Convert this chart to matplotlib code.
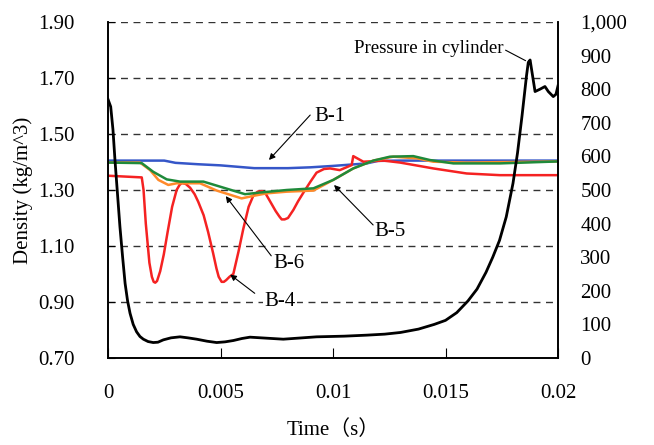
import matplotlib
matplotlib.use("Agg")
import matplotlib.pyplot as plt

# time (s) / density (kg/m^3)
b1_t = [0.0, 0.0025, 0.003, 0.004, 0.005, 0.0065, 0.008, 0.009, 0.010, 0.0115, 0.012, 0.013, 0.020]
b1_d = [1.405, 1.405, 1.397, 1.392, 1.388, 1.378, 1.378, 1.381, 1.386, 1.395, 1.404, 1.405, 1.405]

b4_t = [0.0, 0.0015, 0.00158, 0.00168, 0.00184, 0.00195, 0.00203, 0.0021, 0.00218, 0.00232, 0.00248,
        0.00265, 0.00285, 0.00305, 0.00318, 0.00328, 0.00345, 0.00365, 0.00385, 0.00401, 0.00425,
        0.00445, 0.00467, 0.00482, 0.00492, 0.00505, 0.00515, 0.00525, 0.0054, 0.00557, 0.0058,
        0.00601, 0.00625, 0.00646, 0.00665, 0.00685, 0.0070, 0.0072, 0.00745, 0.00762, 0.00772,
        0.00785, 0.008, 0.00824, 0.00845, 0.00868, 0.009, 0.00927, 0.0096, 0.00987, 0.0103,
        0.01083, 0.0109, 0.01135, 0.01224, 0.01298, 0.01446, 0.01594, 0.01742, 0.020]
b4_d = [1.351, 1.345, 1.30, 1.18, 1.04, 0.99, 0.972, 0.969, 0.975, 1.01, 1.07,
        1.15, 1.24, 1.300, 1.318, 1.325, 1.322, 1.308, 1.285, 1.258, 1.21,
        1.15, 1.075, 1.02, 0.99, 0.972, 0.972, 0.978, 0.99, 1.00, 1.08,
        1.16, 1.24, 1.280, 1.294, 1.296, 1.288, 1.26, 1.225, 1.205, 1.195,
        1.195, 1.20, 1.229, 1.26, 1.29, 1.33, 1.362, 1.375, 1.377, 1.371,
        1.389, 1.421, 1.401, 1.405, 1.398, 1.377, 1.359, 1.353, 1.353]

b6_t = [0.0, 0.00142, 0.00187, 0.00224, 0.00268, 0.00305, 0.00409, 0.00483, 0.00594, 0.00646, 0.00705,
        0.00794, 0.00913, 0.01001, 0.0109, 0.01179, 0.01268, 0.01372, 0.01446, 0.01594, 0.020]
b6_d = [1.398, 1.398, 1.371, 1.336, 1.318, 1.324, 1.324, 1.298, 1.270, 1.279, 1.288,
        1.294, 1.298, 1.336, 1.377, 1.405, 1.419, 1.413, 1.401, 1.398, 1.402]

b5_t = [0.0, 0.0015, 0.00201, 0.00261, 0.0032, 0.00424, 0.00498, 0.00609, 0.00676, 0.00794, 0.00913,
        0.01001, 0.0109, 0.01179, 0.01253, 0.01357, 0.01431, 0.01535, 0.01742, 0.020]
b5_d = [1.398, 1.396, 1.365, 1.338, 1.330, 1.330, 1.312, 1.285, 1.291, 1.300, 1.306,
        1.336, 1.377, 1.405, 1.419, 1.421, 1.407, 1.395, 1.395, 1.402]

# pressure in cylinder, right axis
p_t = [0.0, 0.00012, 0.00022, 0.00031, 0.00042, 0.00053, 0.00065, 0.00076, 0.00087, 0.00098, 0.00112,
       0.00127, 0.00142, 0.00157, 0.00178, 0.00201, 0.00222, 0.00246, 0.0028, 0.0032, 0.00355,
       0.00394, 0.0044, 0.00483, 0.0052, 0.00557, 0.00595, 0.00631, 0.00705, 0.00779, 0.00927,
       0.0105, 0.0115, 0.0123, 0.0130, 0.0138, 0.0145, 0.0150, 0.0155, 0.0160, 0.0164,
       0.0168, 0.0171, 0.0174, 0.0177, 0.0180, 0.0182, 0.0184, 0.0186, 0.01868, 0.01876,
       0.01883, 0.01898, 0.0192, 0.01942, 0.01957, 0.01979, 0.01991, 0.020]
p_v = [770, 748, 680, 589, 490, 391, 300, 222, 170, 133, 100,
       78, 64, 56, 49, 46, 47, 54, 60, 63, 60,
       56, 50, 46, 48, 52, 58, 62, 59, 56, 63,
       65, 68, 71, 76, 86, 100, 112, 135, 170, 205,
       255, 300, 350, 420, 520, 610, 720, 840, 880, 887,
       857, 793, 800, 808, 793, 778, 785, 810]

x_ticks = [0, 0.005, 0.01, 0.015, 0.02]
x_labels = ["0", "0.005", "0.01", "0.015", "0.02"]
d_ticks = [0.70, 0.90, 1.10, 1.30, 1.50, 1.70, 1.90]
p_ticks = [0, 100, 200, 300, 400, 500, 600, 700, 800, 900, 1000]

plt.rcParams["font.family"] = ["Liberation Serif", "Noto Sans CJK JP"]
plt.rcParams["font.size"] = 15

fig = plt.figure(figsize=(6.54, 4.45), dpi=100)
ax = fig.add_axes([108 / 654, 87 / 445, 450 / 654, 336 / 445])
ax2 = ax.twinx()

# dashed grid at the density ticks, the top one replaces the top spine
for y in d_ticks[1:]:
    ax.axhline(y, color="#333333", lw=1.0, ls=(0, (5, 4)), zorder=0.5)
ax.spines["top"].set_visible(False)
ax2.spines["top"].set_visible(False)

ax.plot(b1_t, b1_d, color="#3556c8", lw=1.8)
ax.plot(b4_t, b4_d, color="#f52222", lw=1.8)
ax.plot(b6_t, b6_d, color="#ff8a2a", lw=1.8)
ax.plot(b5_t, b5_d, color="#1f8a3a", lw=1.8)
ax2.plot(p_t, p_v, color="black", lw=2.0)

ax.set_xlim(0, 0.02)
ax.set_ylim(0.70, 1.90)
ax2.set_ylim(0, 1000)
ax.set_xticks(x_ticks)
ax.set_xticklabels(x_labels)
ax.set_yticks(d_ticks)
ax.set_yticklabels([f"{v:.2f}" for v in d_ticks])
ax2.set_yticks(p_ticks)
ax2.set_yticklabels([f"{v:,}" for v in p_ticks])
ax.tick_params(axis="x", direction="in", length=7, pad=19)
ax.tick_params(axis="y", direction="in", length=5, pad=24)
ax2.tick_params(axis="y", length=0, pad=16)
for a in (ax, ax2):
    for s in a.spines.values():
        s.set_linewidth(1.2)

ax.set_xlabel("Time（s）", labelpad=12)
ax.set_ylabel("Density (kg/m^3)", labelpad=4)

arrow = dict(arrowstyle="-|>", color="black", lw=0.8, mutation_scale=9)
ax.annotate("", xy=(0.00707, 1.40), xytext=(0.00907, 1.575), arrowprops=arrow)
ax.text(0.00987, 1.561, "B-1", ha="center", va="center")
ax.annotate("", xy=(0.00996, 1.325), xytext=(0.01187, 1.168), arrowprops=arrow)
ax.text(0.01253, 1.15, "B-5", ha="center", va="center")
ax.annotate("", xy=(0.00516, 1.286), xytext=(0.00733, 1.057), arrowprops=arrow)
ax.text(0.00804, 1.039, "B-6", ha="center", va="center")
ax.annotate("", xy=(0.00533, 1.004), xytext=(0.00662, 0.925), arrowprops=arrow)
ax.text(0.00764, 0.90, "B-4", ha="center", va="center",
        bbox=dict(facecolor="white", edgecolor="none", pad=1))
ax2.annotate("", xy=(0.01867, 881), xytext=(0.01756, 920),
             arrowprops=dict(arrowstyle="-", color="black", lw=0.8))
ax2.text(0.01756, 920, "Pressure in cylinder", ha="right", va="center", fontsize=13.5)

fig.savefig("out.png", dpi=100)
